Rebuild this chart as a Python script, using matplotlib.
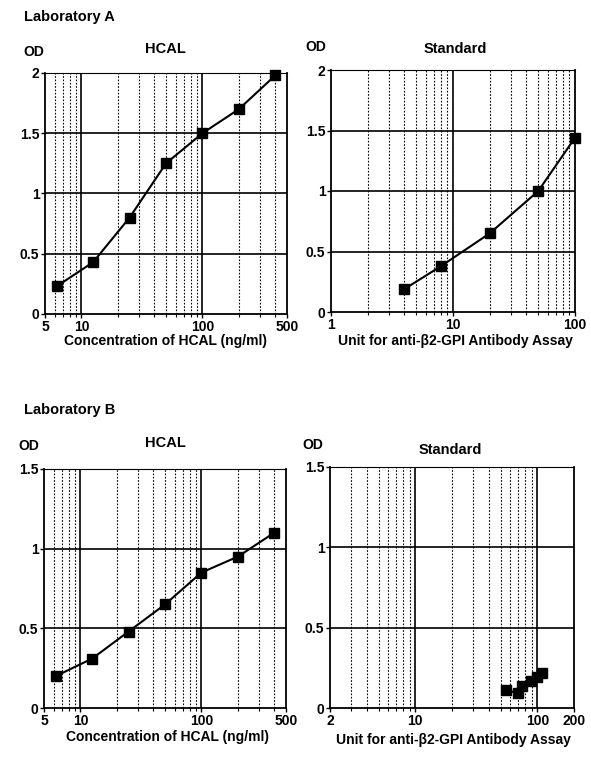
import matplotlib
matplotlib.use("Agg")
import matplotlib.pyplot as plt
from matplotlib.ticker import FixedLocator, NullFormatter, LogLocator
import numpy as np

plt.rcParams['font.family'] = ['Liberation Sans', 'DejaVu Sans']
plt.rcParams['font.weight'] = 'bold'

# ---- data ----
hcal_conc = [6.25, 12.5, 25, 50, 100, 200, 400]
labA_hcal_od = [0.23, 0.43, 0.80, 1.25, 1.50, 1.70, 1.98]
labB_hcal_od = [0.20, 0.31, 0.48, 0.65, 0.85, 0.95, 1.10]

labA_std_unit = [4, 8, 20, 50, 100]
labA_std_od = [0.19, 0.38, 0.65, 1.00, 1.44]

labB_std_unit = [55, 69, 75, 88, 100, 110]
labB_std_od = [0.11, 0.095, 0.14, 0.17, 0.19, 0.22]

hcal_xticks = [5, 10, 100, 500]
stdA_xticks = [1, 10, 100]
stdB_xticks = [2, 10, 100, 200]

W, H = 591, 758
fig = plt.figure(figsize=(W / 100, H / 100), dpi=100)

def rect(l, t, r, b):
    return [l / W, 1 - b / H, (r - l) / W, (b - t) / H]

def panel(pix, xlim, ylim, yticks, xticks, x, y, title, xlabel, od_xy, title_xy, xlabel_xy):
    ax = fig.add_axes(rect(*pix))
    ax.set_xscale('log')
    ax.set_xlim(*xlim)
    ax.set_ylim(*ylim)
    lo, hi = xlim
    decades = range(int(np.floor(np.log10(lo))), int(np.ceil(np.log10(hi))) + 1)
    for d in decades:
        for m in range(1, 10):
            v = m * 10 ** d
            if lo < v < hi:
                if m == 1:
                    ax.axvline(v, color='black', lw=1.2, zorder=1)
                else:
                    ax.axvline(v, color='black', lw=0.8, ls=(0, (1.5, 1.5)), zorder=1)
    for yv in yticks[1:-1]:
        ax.axhline(yv, color='black', lw=1.2, zorder=1)
    ax.plot(x, y, color='black', lw=1.5, marker='s', ms=7.5, zorder=3, clip_on=False)
    ax.set_yticks(yticks)
    ax.set_yticklabels([('%g' % v) for v in yticks])
    ax.xaxis.set_major_locator(FixedLocator(xticks))
    ax.set_xticklabels([str(v) for v in xticks])
    ax.xaxis.set_minor_locator(LogLocator(base=10, subs=np.arange(2, 10)))
    ax.xaxis.set_minor_formatter(NullFormatter())
    ax.tick_params(axis='both', which='major', direction='out', length=3, width=1,
                   labelsize=10, pad=1)
    ax.tick_params(axis='x', which='minor', direction='out', length=2, width=0.8)
    for lab in ax.get_xticklabels() + ax.get_yticklabels():
        lab.set_fontweight('bold')
    for s in ax.spines.values():
        s.set_linewidth(1.3)
    ax.spines['top'].set_linewidth(0.8)
    fig.text(od_xy[0] / W, 1 - od_xy[1] / H, 'OD', fontsize=10, fontweight='bold',
             ha='left', va='center')
    fig.text(title_xy[0] / W, 1 - title_xy[1] / H, title, fontsize=10.5, fontweight='bold',
             ha='center', va='center')
    fig.text(xlabel_xy[0] / W, 1 - xlabel_xy[1] / H, xlabel, fontsize=10, fontweight='bold',
             ha='center', va='center')
    return ax

fig.text(24 / W, 1 - 17 / H, 'Laboratory A', fontsize=10.5, fontweight='bold', ha='left', va='center')
fig.text(24 / W, 1 - 410 / H, 'Laboratory B', fontsize=10.5, fontweight='bold', ha='left', va='center')

panel((45, 73, 287, 314), (5, 500), (0, 2), [0, 0.5, 1, 1.5, 2], hcal_xticks,
      hcal_conc, labA_hcal_od, 'HCAL', 'Concentration of HCAL (ng/ml)',
      (23, 52), (165, 49), (166, 341))
panel((331, 70, 575, 312), (1, 100), (0, 2), [0, 0.5, 1, 1.5, 2], stdA_xticks,
      labA_std_unit, labA_std_od, 'Standard', 'Unit for anti-\u03b22-GPI Antibody Assay',
      (305, 47), (455, 49), (455, 341))
panel((44, 469, 286, 708), (5, 500), (0, 1.5), [0, 0.5, 1, 1.5], hcal_xticks,
      hcal_conc, labB_hcal_od, 'HCAL', 'Concentration of HCAL (ng/ml)',
      (18, 446), (165, 443), (168, 737))
panel((330, 467, 574, 708), (2, 200), (0, 1.5), [0, 0.5, 1, 1.5], stdB_xticks,
      labB_std_unit, labB_std_od, 'Standard', 'Unit for anti-\u03b22-GPI Antibody Assay',
      (302, 445), (450, 450), (453, 740))

fig.savefig('out.png', dpi=100)
